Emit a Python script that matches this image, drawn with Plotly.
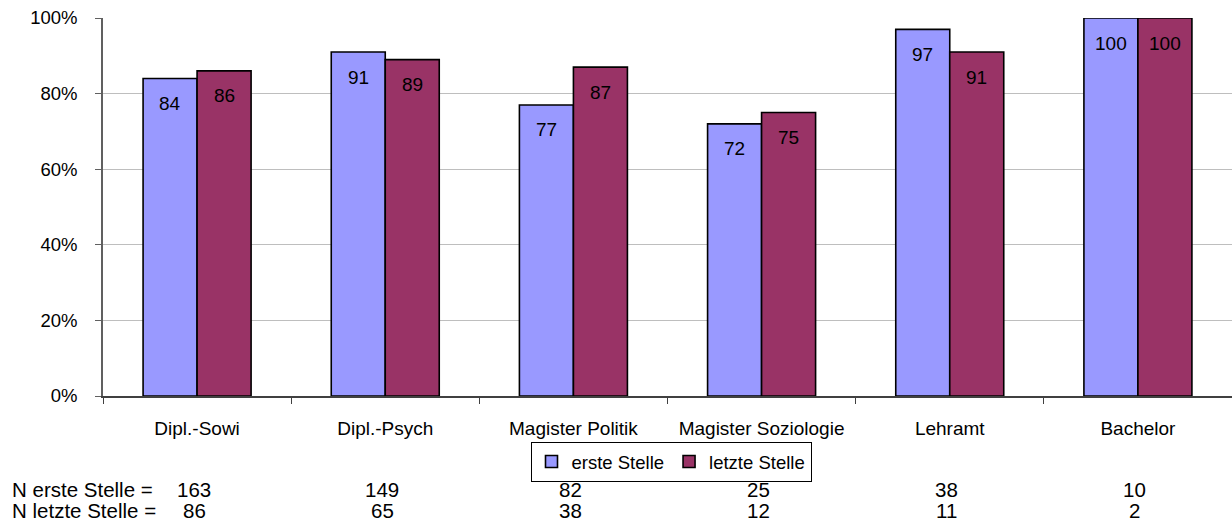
import plotly.graph_objects as go

# Studiengänge and shares (in %) for first and last position
categories = ["Dipl.-Sowi", "Dipl.-Psych", "Magister Politik",
              "Magister Soziologie", "Lehramt", "Bachelor"]
erste_stelle = [84, 91, 77, 72, 97, 100]
letzte_stelle = [86, 89, 87, 75, 91, 100]

# Case counts shown underneath the chart
n_erste = [163, 149, 82, 25, 38, 10]
n_letzte = [86, 65, 38, 12, 11, 2]

y_ticks = [0, 20, 40, 60, 80, 100]
y_tick_labels = ["0%", "20%", "40%", "60%", "80%", "100%"]

W, H = 1232, 523
M_L, M_R, M_T, M_B = 103, 0, 18, 127
FONT = "Liberation Sans, Arial, sans-serif"
FS = 18.5
FS_LABEL = 19
FS_N = 20.5

BLUE = "#9999FF"
MAROON = "#993366"
BARGAP = 0.426

fig = go.Figure()
fig.add_trace(go.Bar(
    name="erste Stelle", x=categories, y=erste_stelle,
    marker=dict(color=BLUE, line=dict(color="#000000", width=1.6)),
    hoverinfo="skip",
))
fig.add_trace(go.Bar(
    name="letzte Stelle", x=categories, y=letzte_stelle,
    marker=dict(color=MAROON, line=dict(color="#000000", width=1.6)),
    hoverinfo="skip",
))

# value labels just inside the top of each bar
plot_w = W - M_L - M_R
cat_w = plot_w / len(categories)
bar_w = cat_w * (1 - BARGAP) / 2
annotations = []
for series, sign in ((erste_stelle, -1), (letzte_stelle, 1)):
    for c, v in zip(categories, series):
        annotations.append(dict(
            x=c, y=v, xref="x", yref="y", text=str(v), showarrow=False,
            xshift=sign * bar_w / 2, yshift=-25, yanchor="middle",
            font=dict(family=FONT, size=FS_LABEL, color="#000000"),
        ))

# N rows beneath the legend
def px_to_paper_y(py):
    return (H - M_B - py) / (H - M_T - M_B)

def px_to_paper_x(px):
    return (px - M_L) / plot_w

for label, counts, py in (("N erste Stelle =", n_erste, 489),
                          ("N letzte Stelle =", n_letzte, 510)):
    annotations.append(dict(
        x=px_to_paper_x(10), y=px_to_paper_y(py), xref="paper", yref="paper",
        text=label, showarrow=False, xanchor="left", yanchor="middle",
        font=dict(family=FONT, size=FS_N, color="#000000"),
    ))
    for c, n in zip(categories, counts):
        annotations.append(dict(
            x=c, y=px_to_paper_y(py), xref="x", yref="paper",
            text=str(n), showarrow=False, xanchor="center", yanchor="middle",
            xshift=-3,
            font=dict(family=FONT, size=FS_N, color="#000000"),
        ))

fig.update_layout(
    width=W, height=H,
    margin=dict(l=M_L, r=M_R, t=M_T, b=M_B, autoexpand=False),
    paper_bgcolor="#FFFFFF", plot_bgcolor="#FFFFFF",
    barmode="group", bargap=BARGAP, bargroupgap=0,
    font=dict(family=FONT, size=FS, color="#000000"),
    showlegend=True,
    legend=dict(
        orientation="h", x=px_to_paper_x(671), xanchor="center",
        y=px_to_paper_y(442), yanchor="top",
        bordercolor="#000000", borderwidth=1, bgcolor="#FFFFFF",
        font=dict(family=FONT, size=FS, color="#000000"),
        itemwidth=30, tracegroupgap=0,
    ),
    annotations=annotations,
)

fig.update_yaxes(
    range=[0, 100], tickvals=y_ticks, ticktext=y_tick_labels,
    showgrid=True, gridcolor="#BEBEBE", gridwidth=1,
    showline=True, linecolor="#606060", linewidth=1.5,
    ticks="outside", ticklen=6, tickcolor="#606060", tickwidth=1,
    ticklabelstandoff=14, zeroline=False, fixedrange=True,
)
fig.update_xaxes(
    showline=True, linecolor="#404040", linewidth=1.5,
    ticks="outside", ticklen=6, tickcolor="#404040", tickwidth=1,
    tickson="boundaries", ticklabelstandoff=14, showgrid=False,
    tickfont=dict(family=FONT, size=FS_LABEL, color="#000000"),
    fixedrange=True,
)

fig.write_html("out.html")
